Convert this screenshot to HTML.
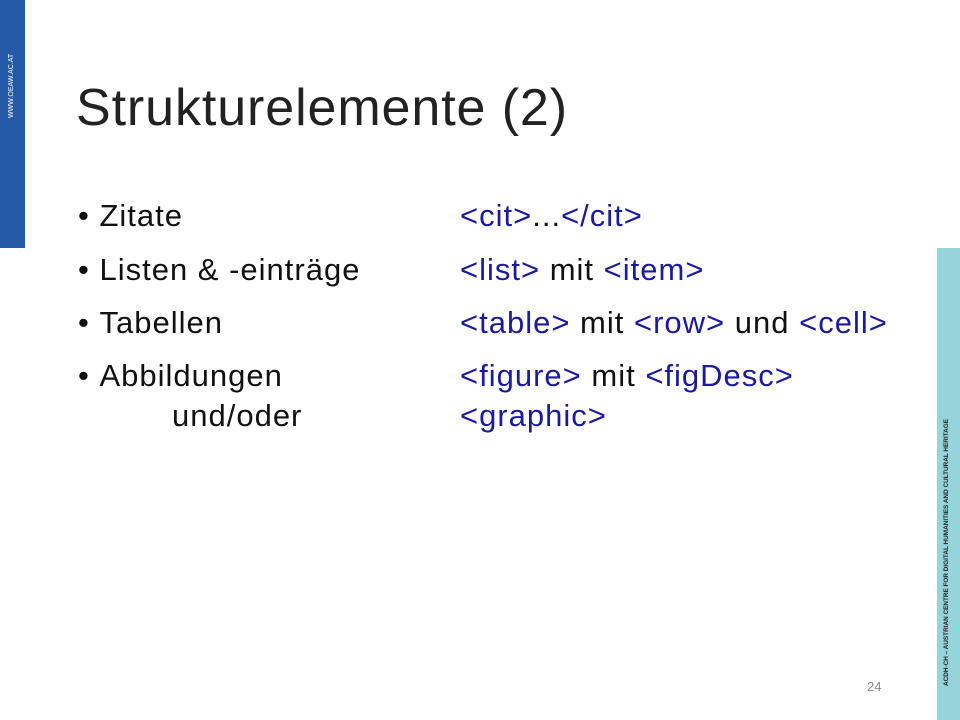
<!DOCTYPE html>
<html><head><meta charset="utf-8"><style>
body{margin:0;width:960px;height:720px;background:#fff;position:relative;overflow:hidden;font-family:"Liberation Sans",sans-serif;}
.l{position:absolute;left:0;top:0;width:25px;height:248px;background:#2459a8;}
.r{position:absolute;left:937px;top:248px;width:23px;height:472px;background:#96d4dc;}
.vt{position:absolute;white-space:nowrap;transform:rotate(-90deg);transform-origin:left top;}
h1{position:absolute;left:76px;top:78px;margin:0;font-weight:normal;font-size:52px;color:#222;letter-spacing:0.9px;}
.t{position:absolute;font-size:31px;color:#111;white-space:nowrap;letter-spacing:1px;line-height:36px;}
.b{color:#1a1aa0;}
</style></head><body>
<div class="l"></div>
<div class="vt" style="left:8px;top:118px;font-size:7px;color:#fff;">WWW.OEAW.AC.AT</div>
<div class="r"></div>
<div class="vt" style="left:943px;top:686px;font-size:6.4px;color:#222;font-weight:bold;">ACDH-CH – AUSTRIAN CENTRE FOR DIGITAL HUMANITIES AND CULTURAL HERITAGE</div>
<h1>Strukturelemente (2)</h1>
<div class="t" style="left:78px;top:198px">•&nbsp;Zitate</div>
<div class="t" style="left:78px;top:252px">•&nbsp;Listen &amp; -einträge</div>
<div class="t" style="left:78px;top:305px">•&nbsp;Tabellen</div>
<div class="t" style="left:78px;top:358px">•&nbsp;Abbildungen</div>
<div class="t" style="left:172px;top:398px">und/oder</div>
<div class="t b" style="left:460px;top:198px">&lt;cit&gt;<span style="color:#111">...</span>&lt;/cit&gt;</div>
<div class="t" style="left:460px;top:252px"><span class="b">&lt;list&gt;</span> mit <span class="b">&lt;item&gt;</span></div>
<div class="t" style="left:460px;top:305px"><span class="b">&lt;table&gt;</span> mit <span class="b">&lt;row&gt;</span> und <span class="b">&lt;cell&gt;</span></div>
<div class="t" style="left:460px;top:358px"><span class="b">&lt;figure&gt;</span> mit <span class="b">&lt;figDesc&gt;</span></div>
<div class="t b" style="left:460px;top:398px">&lt;graphic&gt;</div>
<div style="position:absolute;left:867px;top:679px;font-size:13px;color:#888;">24</div>
</body></html>
